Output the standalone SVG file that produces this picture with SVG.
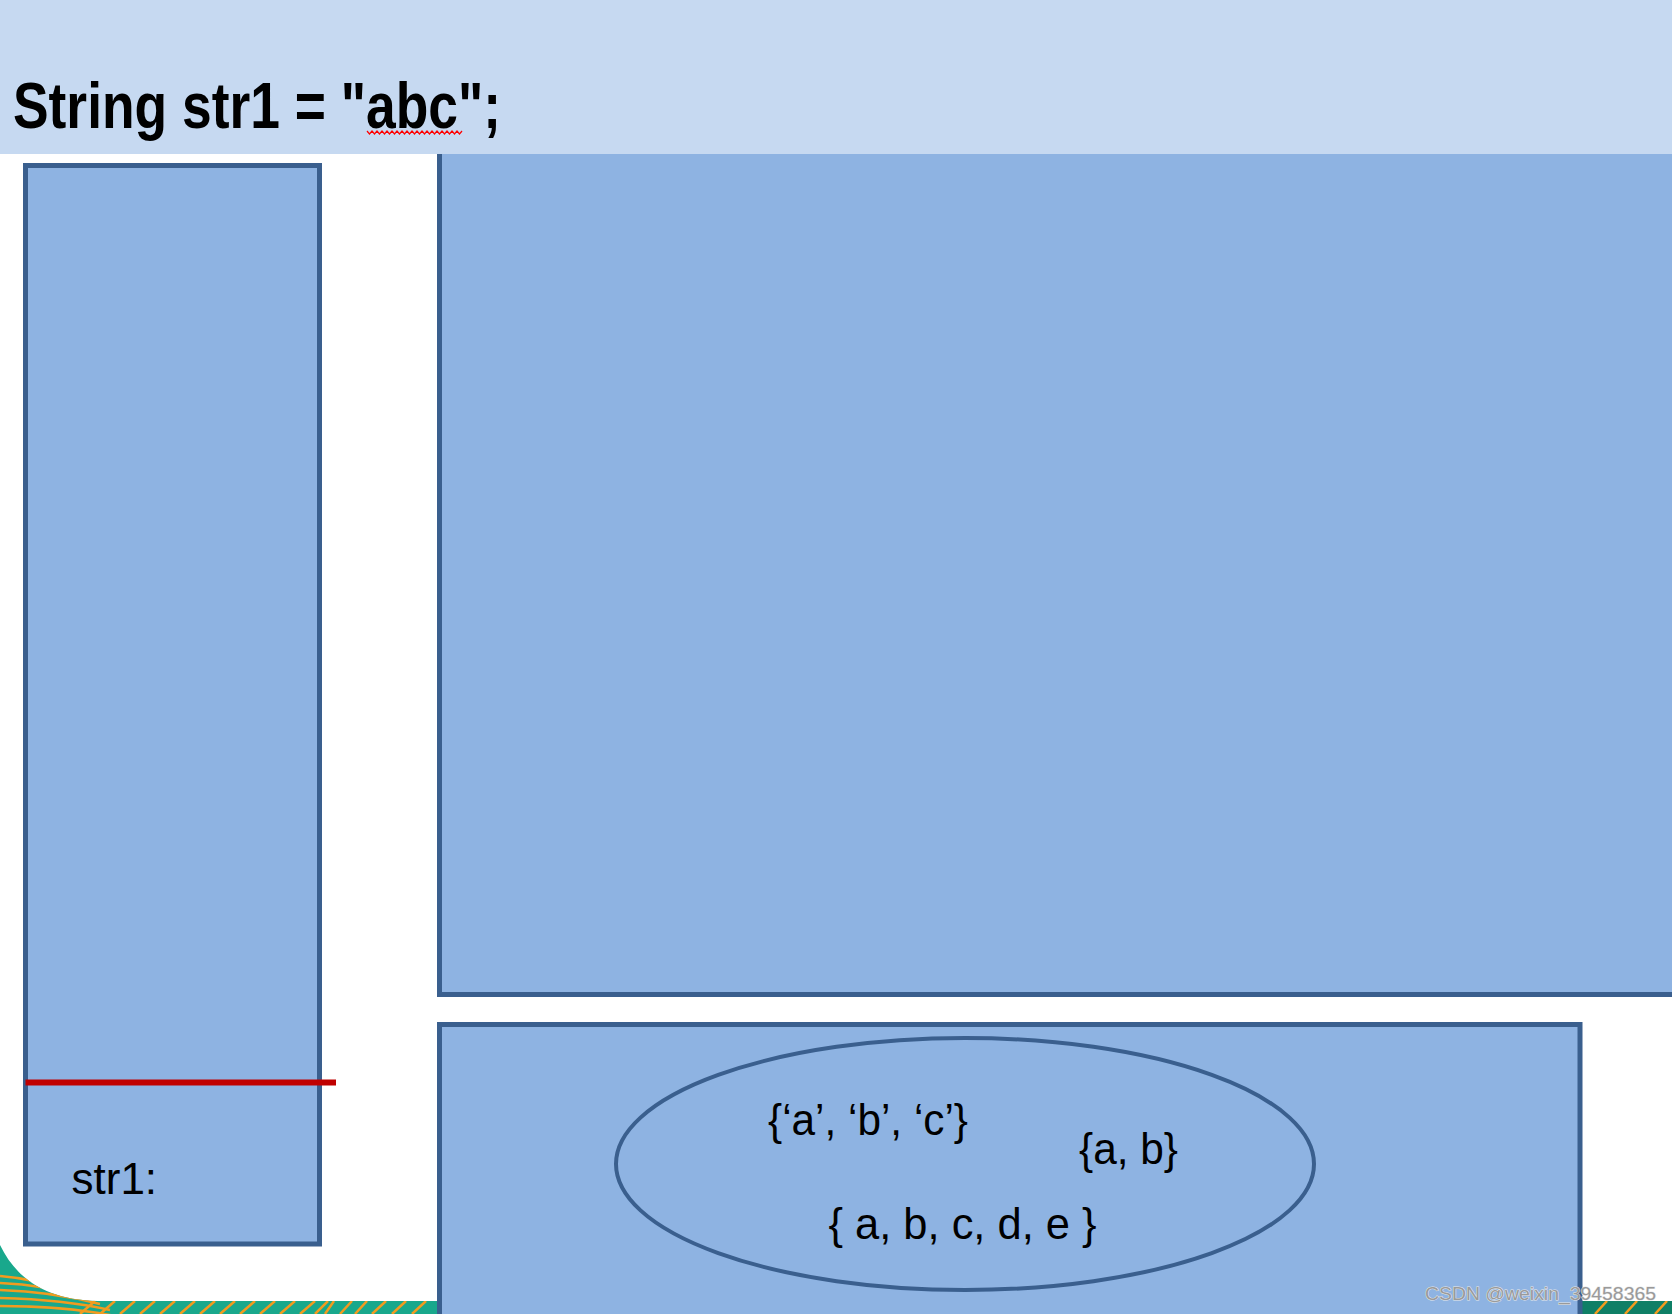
<svg xmlns="http://www.w3.org/2000/svg" width="1672" height="1314" viewBox="0 0 1672 1314">
  <defs>
    <style>
      .box { fill: #8EB3E2; stroke: #3A5F8E; stroke-width: 5; }
      .lbl { font-family: "Liberation Sans", Arial, sans-serif; font-size: 44px; fill: #000; }
      .orange { fill: none; stroke: #F29B1F; stroke-width: 2.5; }
    </style>
    <clipPath id="decoClip">
      <path d="M0,1245 C18,1282 50,1300 98,1301 L1672,1301 L1672,1314 L0,1314 Z"/>
    </clipPath>
  </defs>
  <rect x="0" y="0" width="1672" height="1314" fill="#FFFFFF"/>

  <!-- bottom decoration -->
  <g id="decoration">
    <path d="M0,1245 C18,1282 50,1300 98,1301 L1672,1301 L1672,1314 L0,1314 Z" fill="#19A88C"/>
    <rect x="1582" y="1301" width="90" height="13" fill="#0F7F66"/>
    <g clip-path="url(#decoClip)">
      <path class="orange" d="M0,1276 C25,1278 45,1282 70,1292"/>
      <path class="orange" d="M0,1283 C30,1284 55,1288 85,1298"/>
      <path class="orange" d="M0,1290 C35,1291 65,1295 100,1304"/>
      <path class="orange" d="M0,1298 C40,1299 75,1302 110,1310"/>
      <path class="orange" d="M0,1306 C40,1306 80,1309 115,1316"/>
      <path class="orange" d="M80,1314 L95,1301 M100,1314 L115,1301 M120,1314 L135,1301 M140,1314 L155,1301 M160,1314 L175,1301 M180,1314 L195,1301 M200,1314 L215,1301 M220,1314 L235,1301 M240,1314 L255,1301 M260,1314 L275,1301 M280,1314 L295,1301 M300,1314 L315,1301 M315,1314 L328,1301 M325,1314 L334,1301 M340,1314 L352,1301 M355,1314 L367,1301 M372,1314 L386,1301 M392,1314 L406,1301 M412,1314 L426,1301 M1595,1314 L1607,1301 M1625,1314 L1637,1301 M1655,1314 L1667,1301"/>
    </g>
  </g>

  <!-- heap / top-right region -->
  <g id="heap">
    <rect class="box" x="439.5" y="120" width="1300" height="874.5"/>
  </g>

  <!-- header -->
  <g id="header">
    <rect x="0" y="0" width="1672" height="154" fill="#C6D9F1"/>
    <text x="13" y="128" font-family="Liberation Sans, Arial, sans-serif" font-weight="bold" font-size="64" textLength="488" lengthAdjust="spacingAndGlyphs" fill="#000">String str1 = "abc";</text>
    <path d="M367,131 l2.5,3 l2.5,-3 l2.5,3 l2.5,-3 l2.5,3 l2.5,-3 l2.5,3 l2.5,-3 l2.5,3 l2.5,-3 l2.5,3 l2.5,-3 l2.5,3 l2.5,-3 l2.5,3 l2.5,-3 l2.5,3 l2.5,-3 l2.5,3 l2.5,-3 l2.5,3 l2.5,-3 l2.5,3 l2.5,-3 l2.5,3 l2.5,-3 l2.5,3 l2.5,-3 l2.5,3 l2.5,-3 l2.5,3 l2.5,-3 l2.5,3 l2.5,-3 l2.5,3 l2.5,-3 l2.5,3 l2.5,-3" fill="none" stroke="#FF0000" stroke-width="1.2"/>
  </g>

  <!-- stack -->
  <g id="stack">
    <rect class="box" x="25.5" y="165.5" width="294" height="1078.5"/>
    <text class="lbl" x="71.5" y="1194">str1:</text>
  </g>

  <g id="connectors">
    <line x1="25.5" y1="1082.5" x2="336" y2="1082.5" stroke="#C00000" stroke-width="6"/>
  </g>

  <!-- string constant pool -->
  <g id="method-area">
    <rect class="box" x="439.5" y="1024.5" width="1140.5" height="400"/>
  </g>
  <g id="pool">
    <ellipse cx="965" cy="1164" rx="349" ry="126" fill="none" stroke="#3A5F8E" stroke-width="4"/>
    <text class="lbl" x="768" y="1135" textLength="200" lengthAdjust="spacingAndGlyphs">{‘a’, ‘b’, ‘c’}</text>
    <text class="lbl" x="1079" y="1164" textLength="99" lengthAdjust="spacingAndGlyphs">{a, b}</text>
    <text class="lbl" x="828.5" y="1239" textLength="268" lengthAdjust="spacingAndGlyphs">{ a, b, c, d, e }</text>
  </g>

  <text x="1425" y="1300" font-family="Liberation Sans, Arial, sans-serif" font-size="19" textLength="231" lengthAdjust="spacingAndGlyphs" fill="#9A9A9A" stroke="#E8E8E8" stroke-width="1" paint-order="stroke">CSDN @weixin_39458365</text>
</svg>
